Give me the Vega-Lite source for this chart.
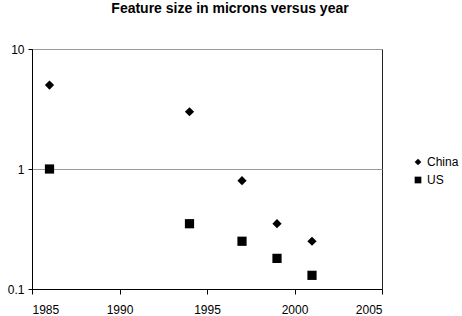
{
  "$schema": "https://vega.github.io/schema/vega-lite/v6.json",
  "autosize": {"type": "none"},
  "width": 350,
  "height": 240,
  "padding": {"left": 32, "top": 49, "right": 80, "bottom": 27},
  "background": "white",
  "title": {
    "text": "Feature size in microns versus year",
    "font": "Liberation Sans",
    "fontSize": 14,
    "fontWeight": "bold",
    "color": "black",
    "anchor": "middle",
    "dx": 23,
    "offset": 27
  },
  "config": {
    "view": {"stroke": "#222", "strokeWidth": 1},
    "axis": {
      "labelFont": "Liberation Sans",
      "labelFontSize": 12,
      "labelColor": "black",
      "domainColor": "black",
      "tickColor": "black",
      "title": null
    }
  },
  "data": {
    "values": [
      {"year": 1986, "size": 5, "country": "China"},
      {"year": 1994, "size": 3, "country": "China"},
      {"year": 1997, "size": 0.8, "country": "China"},
      {"year": 1999, "size": 0.35, "country": "China"},
      {"year": 2001, "size": 0.25, "country": "China"},
      {"year": 1986, "size": 1, "country": "US"},
      {"year": 1994, "size": 0.35, "country": "US"},
      {"year": 1997, "size": 0.25, "country": "US"},
      {"year": 1999, "size": 0.18, "country": "US"},
      {"year": 2001, "size": 0.13, "country": "US"}
    ]
  },
  "mark": {"type": "point", "filled": true, "opacity": 1, "size": 85, "color": "black"},
  "encoding": {
    "x": {
      "field": "year",
      "type": "quantitative",
      "scale": {"domain": [1985, 2005], "nice": false, "zero": false},
      "axis": {
        "values": [1985, 1990, 1995, 2000, 2005],
        "format": "d",
        "grid": false,
        "tickSize": 5,
        "labelPadding": 10
      }
    },
    "y": {
      "field": "size",
      "type": "quantitative",
      "scale": {"type": "log", "domain": [0.1, 10], "nice": false},
      "axis": {
        "values": [0.1, 1, 10],
        "format": "~g",
        "grid": true,
        "gridColor": "#999",
        "tickSize": 4,
        "labelPadding": 4
      }
    },
    "shape": {
      "field": "country",
      "type": "nominal",
      "scale": {"domain": ["China", "US"], "range": ["diamond", "square"]},
      "legend": {
        "title": null,
        "orient": "none",
        "legendX": 380,
        "legendY": 107,
        "symbolSize": 45,
        "symbolFillColor": "black",
        "symbolStrokeColor": "black",
        "labelFont": "Liberation Sans",
        "labelFontSize": 12,
        "labelColor": "black",
        "rowPadding": 4,
        "labelOffset": 3
      }
    }
  }
}
